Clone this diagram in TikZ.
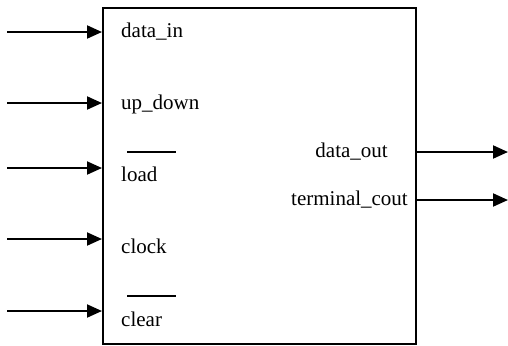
\documentclass[tikz,border=0pt]{standalone}
\usepackage{fontspec}
\setmainfont{Liberation Serif}
\usetikzlibrary{arrows.meta}
\begin{document}
\begin{tikzpicture}[x=1bp,y=-1bp,
  wire/.style={line width=2bp,-{Triangle[length=15bp,width=13bp]}},
  lbl/.style={inner sep=0pt,font=\fontsize{21bp}{25bp}\selectfont},
  bar/.style={line width=1.5bp}]
\useasboundingbox (0,0) rectangle (508,345);
\node[draw,line width=2bp,minimum width=313bp,minimum height=336bp,inner sep=0pt,anchor=north west] (blk) at (102,7) {};
% inputs
\coordinate (i1) at (7,32);
\coordinate (i2) at (7,103);
\coordinate (i3) at (7,168);
\coordinate (i4) at (7,239);
\coordinate (i5) at (7,311);
\foreach \n in {i1,i2,i3,i4,i5}{\draw[wire] (\n) -- (\n -| blk.west);}
% input labels
\node[lbl,anchor=base west] (l1) at (121,37) {data\_in};
\node[lbl,anchor=base west] (l2) at (121,109) {up\_down};
\node[lbl,anchor=base west] (l3) at (121,181) {load};
\node[lbl,anchor=base west] (l4) at (121,253) {clock};
\node[lbl,anchor=base west] (l5) at (121,326) {clear};
\draw[bar] (127,152) -- (176,152);
\draw[bar] (127,296) -- (176,296);
% outputs
\coordinate (o1) at (508,152);
\coordinate (o2) at (508,200);
\draw[wire] (o1 -| blk.east) -- (o1);
\draw[wire] (o2 -| blk.east) -- (o2);
\node[lbl,anchor=base east] (r1) at (388,157) {data\_out};
\node[lbl,anchor=base east] (r2) at (408,205) {terminal\_cout};
\end{tikzpicture}
\end{document}
